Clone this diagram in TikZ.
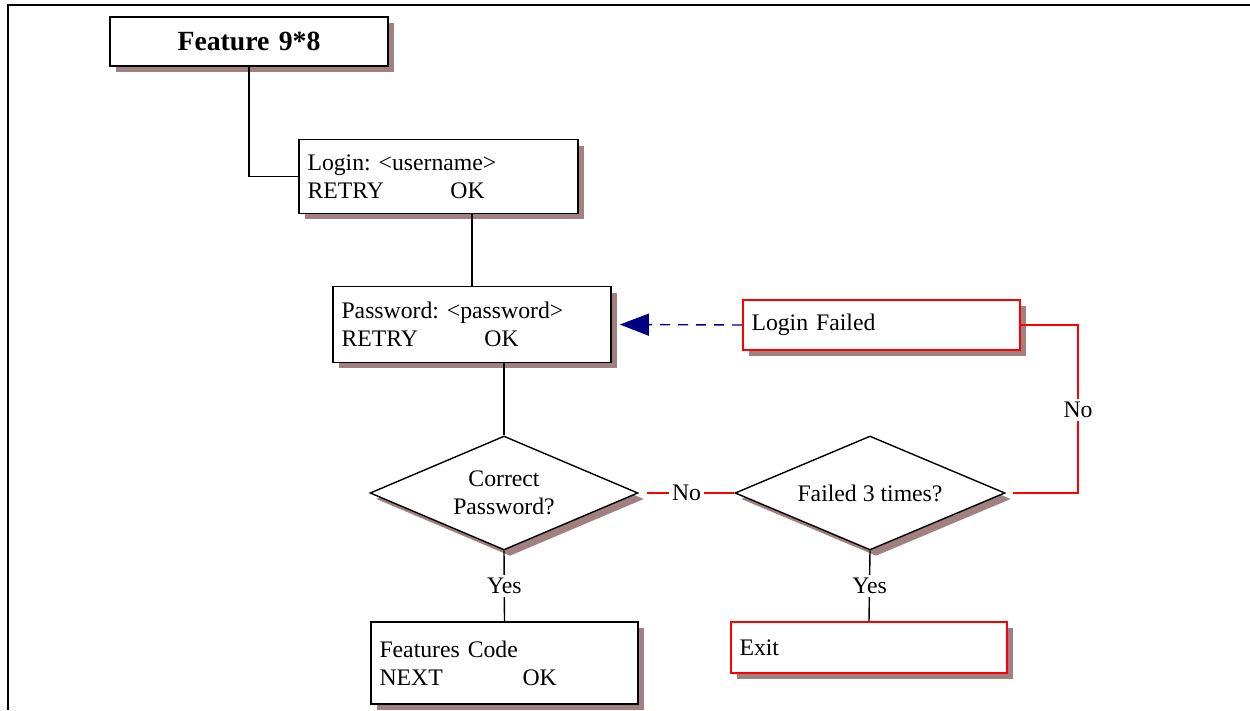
\documentclass[tikz,border=0pt]{standalone}
\usepackage{fontspec}
\setmainfont{Liberation Serif}
\usepackage{xcolor}
\usepackage{tikz}
\usetikzlibrary{shapes,shapes.geometric,shadows,arrows.meta,positioning}
\definecolor{shadowbrown}{RGB}{160,128,128}
\definecolor{arrownavy}{RGB}{0,0,128}
\newcommand{\twoopt}[2]{\makebox[2.86cm][l]{#1}#2}
\frenchspacing

\begin{document}
\begin{tikzpicture}[x=0.02cm,y=-0.02cm,
		font=\fontsize{13.5}{15.8}\selectfont,
		shade/.style={drop shadow={shadow xshift=0.12cm,shadow yshift=-0.12cm,fill=shadowbrown,opacity=1}},
		screen/.style={draw,line width=1pt,fill=white,align=left,inner xsep=0.17cm,shade},
		failbox/.style={screen,draw=red},
		decide/.style={diamond,draw,line width=0.8pt,fill=white,aspect=2.35,inner sep=0pt,align=center,
			minimum width=5.36cm,minimum height=2.28cm,shade},
		link/.style={line width=0.8pt},
		redlink/.style={line width=0.8pt,red},
		lbl/.style={fill=white,inner sep=1.8pt,text=black}]

\useasboundingbox (0,0) rectangle (1250,710);
\draw[line width=1.6pt] (8,710) -- (8,5) -- (1250,5);

		\node[screen,align=center,text width=5.22cm,minimum height=0.98cm,font=\fontsize{15.8}{17}\selectfont\bfseries] (Feat) at (249,41.5) {Feature 9*8};
		\node[screen,text width=5.24cm,minimum height=1.48cm] (Login) at (438.5,176.5) {Login: <username>\\\twoopt{RETRY}{OK}};
		\node[screen,text width=5.22cm,minimum height=1.52cm] (Pwd) at (472,324.5) {Password: <password>\\\twoopt{RETRY}{OK}};
		\node[failbox,text width=5.2cm,minimum height=1.0cm] (LoginF) at (881.5,325) {Login Failed};
		\node[decide] (CorrPwd) at (504,493) {Correct\\Password?};
		\node[decide,minimum width=5.4cm] (Fail3) at (870,493) {Failed 3 times?};
		\node[screen,text width=5.0cm,minimum height=1.64cm] (FeatCode) at (504.5,663) {Features Code\\\twoopt{NEXT}{OK}};
		\node[failbox,text width=5.18cm,minimum height=1.02cm] (Exit) at (869,647.5) {Exit};
\coordinate (NoBend) at (1078,410);

\draw[link] (Feat.south) |- (Login.west);
\draw[link] (Pwd.north) -- (Pwd.north |- Login.south);
\draw[link] (CorrPwd.north) -- (CorrPwd.north |- Pwd.south);
\draw[link] (CorrPwd.south) -- node[lbl]{Yes} (FeatCode.north);
\draw[link] (Fail3.south) -- node[lbl]{Yes} (Exit.north);
\draw[redlink,shorten <=0.16cm] (CorrPwd.east) -- node[lbl]{No} (Fail3.west);
\draw[redlink,shorten <=0.14cm] (Fail3.east) -| (NoBend) node[lbl]{No} |- (LoginF.east);
\draw[arrownavy,line width=0.8pt,dash pattern=on 0.2cm off 0.16cm,shorten >=0.16cm,
		-{Triangle[length=0.58cm,width=0.44cm]}] (LoginF.west) -- (Pwd.east);

	\end{tikzpicture}
\end{document}
